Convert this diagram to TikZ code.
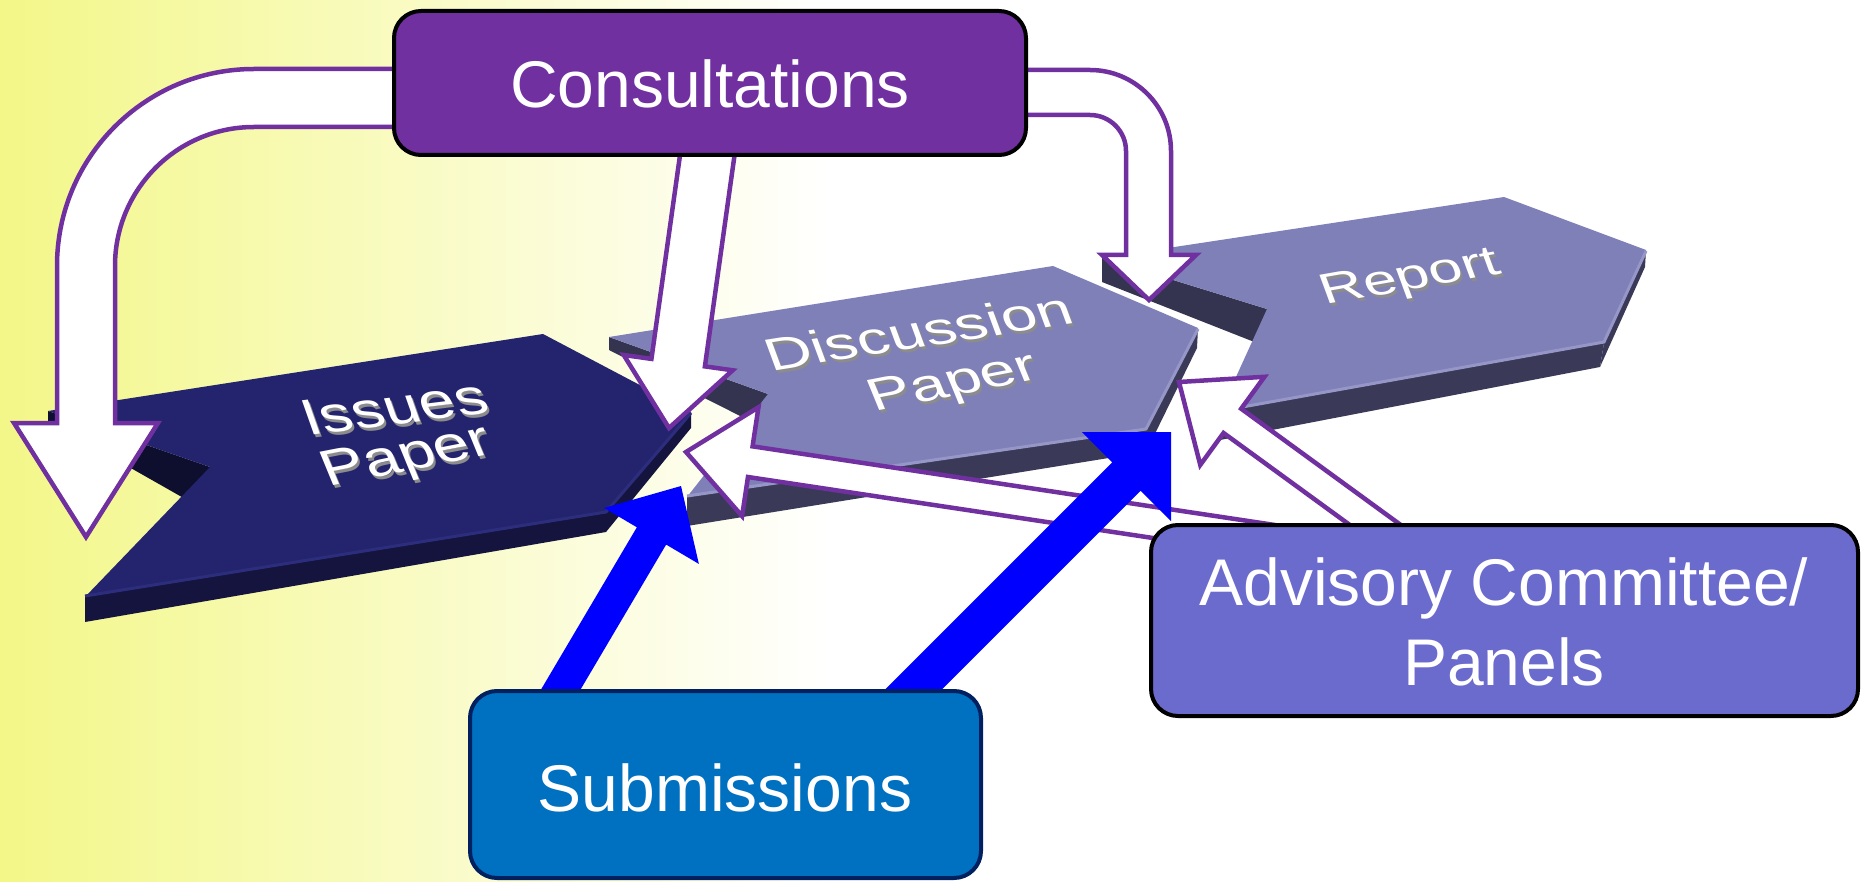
\documentclass[tikz,border=0pt]{standalone}
\usepackage{fontspec}
\setmainfont{Liberation Sans}
\usetikzlibrary{calc}
\definecolor{cpurple}{RGB}{112,48,160}
\definecolor{cblue}{RGB}{0,112,192}
\definecolor{cnavy}{RGB}{0,32,96}
\definecolor{cadv}{RGB}{107,107,205}
\definecolor{bgyellow}{RGB}{243,247,136}
\definecolor{arrblue}{RGB}{0,0,255}
\definecolor{iptop}{RGB}{35,35,110}
\definecolor{ipfront}{RGB}{20,20,62}
\definecolor{ipside}{RGB}{14,14,46}
\definecolor{ipedge}{RGB}{45,45,125}
\definecolor{dptop}{RGB}{128,128,184}
\definecolor{dpfront}{RGB}{58,58,88}
\definecolor{dpside}{RGB}{52,52,80}
\definecolor{dpedge}{RGB}{150,150,200}
\definecolor{shadowgray}{RGB}{140,140,140}
\newcommand\blockarrow[6]{%
  \coordinate (hb) at ($(#3)!#6!(#2)$);
  \path[#1] ($(#2)!#4!90:(#3)$) -- ($(hb)!#4!-90:(#2)$) -- ($(hb)!#5!-90:(#2)$) -- (#3)
     -- ($(hb)!#5!90:(#2)$) -- ($(hb)!#4!90:(#2)$) -- ($(#2)!#4!-90:(#3)$) -- cycle;
}
\tikzset{
  warrow/.style={fill=white, draw=cpurple, line width=4.5pt, line join=miter},
  barrow/.style={fill=arrblue},
  boxbase/.style={rounded corners=27pt, line width=4pt, inner sep=0pt, draw=black},
  boxtxt/.style={font=\fontsize{66}{80}\selectfont, text=white, inner sep=0pt, anchor=base},
  chevtxt/.style={font=\fontsize{64}{64}\selectfont, inner sep=0pt, anchor=base},
  reptxt/.style={font=\fontsize{60}{60}\selectfont, inner sep=0pt, anchor=base},
}
\begin{document}
\begin{tikzpicture}[x=1pt,y=-1pt]
\useasboundingbox (0,0) rectangle (1863,882);
\fill[white] (0,0) rectangle (1863,882);
\shade[left color=bgyellow, right color=white] (0,0) rectangle (830,882);

% ---- Report chevron
\fill[dpside] (1267,309) -- (1102,258) -- (1102,282) -- (1267,347) -- cycle;
\fill[dpfront] (1604,343) -- (1220,412) -- (1220,440) -- (1600,367) -- cycle;
\fill[dpfront] (1646,250) -- (1604,343) -- (1600,367) -- (1645,267) -- cycle;
\fill[dptop] (1102,258) -- (1504,197) -- (1646,250) -- (1604,343) -- (1220,412) -- (1267,309) -- cycle;
\draw[dpedge, line width=3pt] (1646,251) -- (1604,342) -- (1220,411);
% ---- Discussion chevron
\fill[dpside] (768,394) -- (609,337) -- (609,350) -- (768,430) -- cycle;
\fill[dpfront] (1146,430) -- (687,497) -- (687,526) -- (1146,452) -- cycle;
\fill[dpfront] (1198,328) -- (1146,430) -- (1146,452) -- (1197,348) -- cycle;
\fill[dptop] (609,337) -- (1053,266) -- (1198,328) -- (1146,430) -- (687,497) -- (768,394) -- cycle;
\draw[dpedge, line width=3pt] (1198,329) -- (1146,429) -- (687,496);
% ---- Issues chevron
\fill[ipside] (210,467) -- (48,411) -- (48,421) -- (210,513) -- cycle;
\fill[ipfront] (606,513) -- (85,597) -- (85,622) -- (606,532) -- cycle;
\fill[ipfront] (691,412) -- (606,513) -- (606,532) -- (691,428) -- cycle;
\fill[iptop] (48,411) -- (543,334) -- (691,412) -- (606,513) -- (85,597) -- (210,467) -- cycle;
\draw[ipedge, line width=3pt] (691,413) -- (606,512) -- (85,596);

% ---- chevron labels (3D lettering: grey depth under white face)
\node[chevtxt, text=shadowgray, rotate=7, xslant=-0.22, yscale=0.8] at (402,427) {Issues};
\node[chevtxt, text=white, rotate=7, xslant=-0.22, yscale=0.8] (iss) at (400,424) {Issues};
\node[chevtxt, text=shadowgray, rotate=11, xslant=-0.2, yscale=0.8] at (414,473) {Paper};
\node[chevtxt, text=white, rotate=11, xslant=-0.2, yscale=0.8] (isp) at (412,470) {Paper};
\node[chevtxt, text=shadowgray, rotate=9, xslant=-0.2, yscale=0.72] at (926,350) {Discussion};
\node[chevtxt, text=white, rotate=9, xslant=-0.2, yscale=0.72] (dis) at (924,347) {Discussion};
\node[chevtxt, text=shadowgray, rotate=11, xslant=-0.2, yscale=0.72] at (960,398) {Paper};
\node[chevtxt, text=white, rotate=11, xslant=-0.2, yscale=0.72] (dsp) at (958,395) {Paper};
\node[reptxt, text=shadowgray, rotate=10, xslant=-0.18, yscale=0.72] at (1416,292) {Report};
\node[reptxt, text=white, rotate=10, xslant=-0.18, yscale=0.72] (rep) at (1414,289) {Report};

% ---- white arrows from Consultations
\draw[warrow] (400,69) -- (254,69) .. controls (145.2,69) and (57,157.2) .. (57,266)
  -- (57,423) -- (14,423) -- (86,537) -- (158,423) -- (115,423) -- (115,266)
  .. controls (115,189.2) and (177.2,127) .. (254,127) -- (400,127) -- cycle;
\draw[warrow] (1020,70) -- (1090,70) .. controls (1134.7,70) and (1171,106.3) .. (1171,151)
  -- (1171,255) -- (1196,255) -- (1149,300) -- (1102,255) -- (1126,255) -- (1126,151)
  .. controls (1126,131.1) and (1109.9,115) .. (1090,115) -- (1020,115) -- cycle;
\coordinate (c2s) at (708,150);
\coordinate (c2e) at (669,428);
\blockarrow{warrow}{c2s}{c2e}{27pt}{55pt}{66pt}

% ---- white arrows from Advisory
\coordinate (a4s) at (1350,552);
\coordinate (a4e) at (686,452);
\blockarrow{warrow}{a4s}{a4e}{15.5pt}{55pt}{65pt}
\coordinate (a5s) at (1411,551);
\coordinate (a5e) at (1179,382);
\blockarrow{warrow}{a5s}{a5e}{15pt}{54.5pt}{66pt}

% ---- blue arrows from Submissions
\coordinate (b6s) at (541,723);
\coordinate (b6e) at (681,486);
\blockarrow{barrow}{b6s}{b6e}{17pt}{55pt}{58pt}
\coordinate (b7s) at (895,708);
\coordinate (b7e) at (1171,432);
\blockarrow{barrow}{b7s}{b7e}{20pt}{63pt}{63pt}

% ---- boxes
\node[boxbase, fill=cpurple, minimum width=632pt, minimum height=144pt] (cons) at (710,83) {};
\node[boxtxt] (constxt) at (710,108) {Consultations};
\node[boxbase, draw=cnavy, fill=cblue, minimum width=511pt, minimum height=187pt] (subm) at (725.5,784.5) {};
\node[boxtxt] (submtxt) at (725,811.5) {Submissions};
\node[boxbase, fill=cadv, minimum width=707pt, minimum height=191pt] (adv) at (1504.5,620.5) {};
\node[boxtxt] (advtxt1) at (1504,605) {Advisory Committee/};
\node[boxtxt] (advtxt2) at (1504,685) {Panels};
\end{tikzpicture}
\end{document}
